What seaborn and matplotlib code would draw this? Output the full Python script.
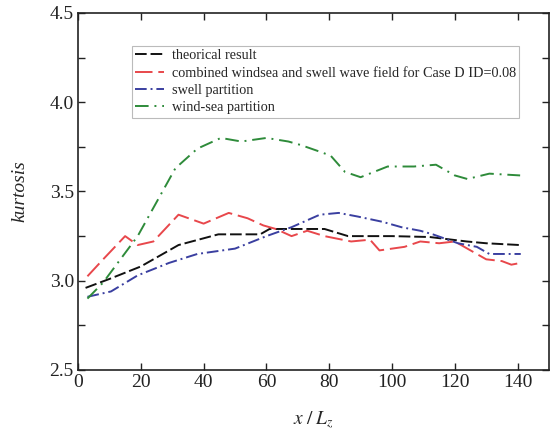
import numpy as np
import pandas as pd
import seaborn as sns
import matplotlib.pyplot as plt
from matplotlib.ticker import MultipleLocator

x_theory = [2.4, 10, 20, 32, 44.7, 58, 61, 70, 78.5, 86, 100, 112, 123.8, 130, 140.8]
k_theory = [2.96, 3.01, 3.08, 3.20, 3.26, 3.26, 3.29, 3.29, 3.29, 3.25, 3.25, 3.245, 3.22, 3.21, 3.20]

x_comb = [3, 8, 15, 19, 24, 32, 40, 48, 54, 59, 63, 68, 73, 78.5, 87, 93, 96, 104, 109, 115,
          120, 130, 135, 138, 141]
k_comb = [3.025, 3.12, 3.25, 3.20, 3.22, 3.37, 3.32, 3.38, 3.35, 3.31, 3.29, 3.25, 3.28, 3.25,
          3.22, 3.23, 3.17, 3.19, 3.22, 3.21, 3.22, 3.12, 3.11, 3.09, 3.10]

x_swell = [3, 10.5, 19, 29, 38, 50, 60, 68, 77, 83, 89, 97, 103, 109, 113, 121, 127, 131, 141]
k_swell = [2.91, 2.94, 3.03, 3.10, 3.15, 3.18, 3.25, 3.30, 3.37, 3.38, 3.36, 3.33, 3.30, 3.28,
           3.26, 3.21, 3.19, 3.15, 3.15]

x_wind = [3, 8, 19, 25, 31, 38, 45.5, 52, 60, 67, 71, 77.5, 80.5, 85, 90, 98.6, 107, 114, 120,
          124, 131, 140.8]
k_wind = [2.90, 2.99, 3.25, 3.44, 3.63, 3.74, 3.80, 3.78, 3.80, 3.78, 3.76, 3.72, 3.70, 3.61,
          3.58, 3.64, 3.64, 3.65, 3.59, 3.57, 3.60, 3.59]

labels = ["theorical result",
          "combined windsea and swell wave field for Case D ID=0.08",
          "swell partition",
          "wind-sea partition"]

sns.set_style("ticks")
plt.rcParams["font.family"] = ["Liberation Serif", "DejaVu Serif"]
plt.rcParams["mathtext.fontset"] = "stix"

fig = plt.figure(figsize=(5.51, 4.33), dpi=100)
ax = fig.add_axes([0.1416, 0.1455, 0.8548, 0.8245])

series = [
    (x_theory, k_theory, "#111111", (0, (6, 2))),
    (x_comb, k_comb, "#e8474b", (0, (9, 3))),
    (x_swell, k_swell, "#3a3fa0", (0, (6, 2, 1, 2))),
    (x_wind, k_wind, "#2e8b3a", (0, (7, 3, 1, 3))),
]
for (xs, ys, c, ls), lab in zip(series, labels):
    sns.lineplot(x=xs, y=ys, ax=ax, color=c, linestyle=ls, lw=1.4, label=lab)

ax.set_xlim(0, 150)
ax.set_ylim(2.5, 4.5)
ax.xaxis.set_major_locator(MultipleLocator(20))
ax.yaxis.set_major_locator(MultipleLocator(0.5))
ax.yaxis.set_minor_locator(MultipleLocator(0.25))
ax.yaxis.set_major_formatter(plt.FormatStrFormatter("%.1f"))
ax.tick_params(which="both", direction="in", top=True, right=True, length=5,
               width=1, labelsize=14, colors="#222222", pad=3)
for s in ax.spines.values():
    s.set_linewidth(1.2)
    s.set_color("#222222")

ax.set_xlabel("$x\\;/\\;L_z$", fontsize=14, labelpad=13)
ax.set_ylabel("kurtosis", fontsize=14, style="italic", labelpad=15)

leg = ax.legend(loc="upper left", bbox_to_anchor=(0.114, 0.908), fontsize=10.3,
                frameon=True, fancybox=False, borderpad=0.25, labelspacing=0.3,
                handlelength=2.0, handletextpad=0.55, borderaxespad=0)
leg.get_frame().set_edgecolor("#aaaaaa")
leg.get_frame().set_linewidth(0.8)

fig.savefig("out.png", dpi=100)
